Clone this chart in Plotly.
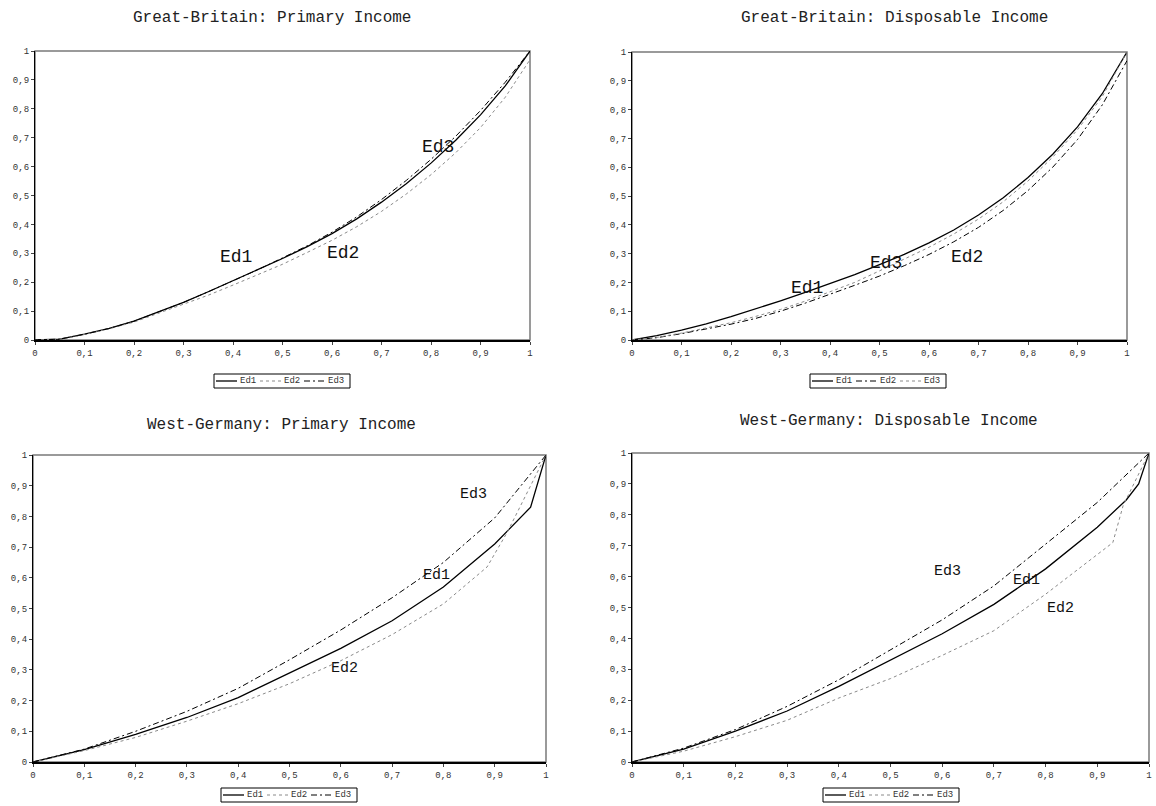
import plotly.graph_objects as go

# ---------------- data ----------------
x_grid = [0, 0.05, 0.1, 0.15, 0.2, 0.25, 0.3, 0.35, 0.4, 0.45, 0.5,
          0.55, 0.6, 0.65, 0.7, 0.75, 0.8, 0.85, 0.9, 0.95, 1.0]

# Great-Britain: Primary Income
gbp_ed1 = [0, 0.003, 0.02, 0.04, 0.065, 0.097, 0.13, 0.167, 0.205, 0.242, 0.282,
           0.323, 0.368, 0.419, 0.477, 0.541, 0.612, 0.691, 0.779, 0.879, 1.0]
gbp_ed2 = [0, 0.003, 0.019, 0.039, 0.062, 0.093, 0.123, 0.155, 0.19, 0.225, 0.262,
           0.303, 0.345, 0.392, 0.445, 0.505, 0.572, 0.648, 0.735, 0.84, 0.97]
gbp_ed3 = [0, 0.003, 0.02, 0.04, 0.065, 0.097, 0.13, 0.167, 0.205, 0.243, 0.284,
           0.326, 0.373, 0.426, 0.486, 0.552, 0.625, 0.705, 0.794, 0.892, 1.0]

# Great-Britain: Disposable Income
gbd_ed1 = [0, 0.015, 0.034, 0.056, 0.081, 0.108, 0.136, 0.165, 0.195, 0.227, 0.262,
           0.297, 0.337, 0.382, 0.434, 0.494, 0.564, 0.645, 0.74, 0.855, 1.0]
gbd_ed2 = [0, 0.008, 0.022, 0.038, 0.055, 0.075, 0.1, 0.128, 0.158, 0.19, 0.222,
           0.258, 0.297, 0.341, 0.391, 0.45, 0.519, 0.6, 0.696, 0.816, 0.97]
gbd_ed3 = [0, 0.009, 0.024, 0.041, 0.06, 0.082, 0.106, 0.135, 0.168, 0.2, 0.24,
           0.28, 0.322, 0.368, 0.42, 0.48, 0.552, 0.635, 0.73, 0.845, 1.0]

# West-Germany: Primary Income
wgp_x1 = [0, 0.1, 0.2, 0.3, 0.4, 0.5, 0.6, 0.7, 0.8, 0.9, 0.97, 1.0]
wgp_ed1 = [0, 0.04, 0.09, 0.145, 0.21, 0.29, 0.37, 0.46, 0.57, 0.71, 0.83, 1.0]
wgp_x2 = [0, 0.1, 0.2, 0.3, 0.4, 0.5, 0.6, 0.7, 0.8, 0.885, 0.925, 1.0]
wgp_ed2 = [0, 0.037, 0.08, 0.133, 0.19, 0.255, 0.33, 0.415, 0.515, 0.635, 0.75, 1.0]
wgp_x3 = [0, 0.1, 0.2, 0.3, 0.4, 0.5, 0.6, 0.7, 0.8, 0.9, 1.0]
wgp_ed3 = [0, 0.042, 0.1, 0.165, 0.24, 0.333, 0.43, 0.535, 0.65, 0.795, 1.0]

# West-Germany: Disposable Income
wgd_x1 = [0, 0.1, 0.2, 0.3, 0.4, 0.5, 0.6, 0.7, 0.8, 0.9, 0.956, 0.98, 1.0]
wgd_ed1 = [0, 0.042, 0.1, 0.165, 0.245, 0.33, 0.415, 0.51, 0.625, 0.76, 0.848, 0.9, 1.0]
wgd_x2 = [0, 0.1, 0.2, 0.3, 0.4, 0.5, 0.6, 0.7, 0.8, 0.9, 0.93, 0.95, 0.98, 1.0]
wgd_ed2 = [0, 0.035, 0.082, 0.135, 0.207, 0.27, 0.345, 0.425, 0.543, 0.67, 0.71, 0.83, 0.93, 1.0]
wgd_x3 = [0, 0.1, 0.2, 0.3, 0.4, 0.5, 0.6, 0.7, 0.8, 0.9, 1.0]
wgd_ed3 = [0, 0.045, 0.105, 0.18, 0.266, 0.362, 0.46, 0.57, 0.705, 0.84, 1.0]

titles = ["Great-Britain: Primary Income", "Great-Britain: Disposable Income",
          "West-Germany: Primary Income", "West-Germany: Disposable Income"]
series_names = ["Ed1", "Ed2", "Ed3"]
tick_vals = [0, 0.1, 0.2, 0.3, 0.4, 0.5, 0.6, 0.7, 0.8, 0.9, 1]
tick_text = ["0", "0,1", "0,2", "0,3", "0,4", "0,5", "0,6", "0,7", "0,8", "0,9", "1"]

# ---------------- styles ----------------
FONT = "Liberation Mono"
SOLID = dict(color="black", width=1.3, dash="solid")
DOT = dict(color="#8a8a8a", width=1, dash="dot")
DASHDOT = dict(color="black", width=1, dash="6px,3px,2px,3px")

fig = go.Figure()

panels = [
    ("x", "y", [(x_grid, gbp_ed1, SOLID), (x_grid, gbp_ed2, DOT), (x_grid, gbp_ed3, DASHDOT)]),
    ("x2", "y2", [(x_grid, gbd_ed1, SOLID), (x_grid, gbd_ed2, DASHDOT), (x_grid, gbd_ed3, DOT)]),
    ("x3", "y3", [(wgp_x1, wgp_ed1, SOLID), (wgp_x2, wgp_ed2, DOT), (wgp_x3, wgp_ed3, DASHDOT)]),
    ("x4", "y4", [(wgd_x1, wgd_ed1, SOLID), (wgd_x2, wgd_ed2, DOT), (wgd_x3, wgd_ed3, DASHDOT)]),
]

for xa, ya, trs in panels:
    for name, (xs, ys, style) in zip(series_names, trs):
        fig.add_trace(go.Scatter(x=xs, y=ys, mode="lines", name=name, line=style,
                                 xaxis=xa, yaxis=ya, showlegend=False, hoverinfo="x+y+name"))

W, H = 1156, 806
# plot areas in pixels: (left, right, top, bottom)
boxes = {1: (35, 530, 51, 340), 2: (632, 1127, 52, 340),
         3: (33, 546, 455, 762), 4: (632, 1149, 453, 762)}

layout = dict(
    width=W, height=H, margin=dict(l=0, r=0, t=0, b=0, autoexpand=False),
    paper_bgcolor="white", plot_bgcolor="white",
    font=dict(family=FONT, color="#333"), showlegend=False,
)

for i in range(1, 5):
    l, r, t, b = boxes[i]
    sx = "" if i == 1 else str(i)
    common = dict(range=[0, 1], tickmode="array", tickvals=tick_vals, ticktext=tick_text,
                  showgrid=False, zeroline=False, showline=True, linecolor="black",
                  ticks="outside", ticklen=3, tickcolor="#444", automargin=False,
                  tickfont=dict(size=9, family=FONT, color="#333"), fixedrange=True)
    layout["xaxis" + sx] = dict(domain=[l / W, r / W], anchor="y" + sx, linewidth=2, **common)
    layout["yaxis" + sx] = dict(domain=[1 - b / H, 1 - t / H], anchor="x" + sx, linewidth=1.3, **common)

fig.update_layout(**layout)

shapes = []
# plot-area borders (grey)
for i in range(1, 5):
    sx = "" if i == 1 else str(i)
    shapes.append(dict(type="rect", xref="x" + sx + " domain", yref="y" + sx + " domain",
                       x0=0, x1=1, y0=0, y1=1, line=dict(color="#7a7a7a", width=1.5), layer="below"))

# legends (boxed, one per chart): left edge px, vertical centre px, style order
legend_specs = [
    (214, 381, [SOLID, DOT, DASHDOT]),
    (810, 381, [SOLID, DASHDOT, DOT]),
    (221, 795, [SOLID, DOT, DASHDOT]),
    (823, 795, [SOLID, DOT, DASHDOT]),
]
LW, LH = 136, 14
for lx, ly, styles in legend_specs:
    shapes.append(dict(type="rect", xref="paper", yref="paper",
                       x0=lx / W, x1=(lx + LW) / W, y0=1 - (ly + LH / 2) / H, y1=1 - (ly - LH / 2) / H,
                       line=dict(color="black", width=1), fillcolor="white", layer="above"))
    for k, (name, st) in enumerate(zip(series_names, styles)):
        sx0 = lx + 2 + 44 * k
        shapes.append(dict(type="line", xref="paper", yref="paper",
                           x0=sx0 / W, x1=(sx0 + 21) / W, y0=1 - ly / H, y1=1 - ly / H,
                           line=dict(color=st["color"], width=st["width"], dash=st["dash"]),
                           layer="above"))
        fig.add_annotation(text=name, x=(sx0 + 22) / W, y=1 - ly / H, xref="paper", yref="paper",
                           xanchor="left", yanchor="middle", showarrow=False,
                           font=dict(size=9, family=FONT, color="#333"))
fig.update_layout(shapes=shapes)

# chart titles
title_pos = [(272, 18, 16), (894, 18, 16), (281, 425, 16), (889, 421, 16)]
for txt, (px, py, fs) in zip(titles, title_pos):
    fig.add_annotation(text=txt, x=px / W, y=1 - py / H, xref="paper", yref="paper",
                       xanchor="center", yanchor="middle", showarrow=False,
                       font=dict(size=fs, family=FONT, color="#222"))

# curve labels (data coordinates)
labels = [
    ("x", "y", "Ed1", 0.407, 0.288, 18), ("x", "y", "Ed2", 0.623, 0.30, 18), ("x", "y", "Ed3", 0.814, 0.668, 18),
    ("x2", "y2", "Ed1", 0.353, 0.18, 18), ("x2", "y2", "Ed3", 0.514, 0.266, 18), ("x2", "y2", "Ed2", 0.676, 0.289, 18),
    ("x3", "y3", "Ed3", 0.858, 0.87, 15), ("x3", "y3", "Ed1", 0.787, 0.609, 15), ("x3", "y3", "Ed2", 0.608, 0.305, 15),
    ("x4", "y4", "Ed3", 0.61, 0.616, 15), ("x4", "y4", "Ed1", 0.764, 0.589, 15), ("x4", "y4", "Ed2", 0.828, 0.497, 15),
]
for xa, ya, txt, lx, ly, fs in labels:
    fig.add_annotation(text=txt, x=lx, y=ly, xref=xa, yref=ya, showarrow=False,
                       xanchor="center", yanchor="middle",
                       font=dict(size=fs, family=FONT, color="#111"))

# remove the default page margin so the 1156x806 figure fills the window exactly
page_fix = ("document.documentElement.style.margin='0';document.documentElement.style.overflow='hidden';"
            "document.body.style.margin='0';document.body.style.padding='0';"
            "document.body.style.overflow='hidden';")
fig.write_html("out.html", post_script=page_fix,
               config={"displayModeBar": False, "responsive": False})
